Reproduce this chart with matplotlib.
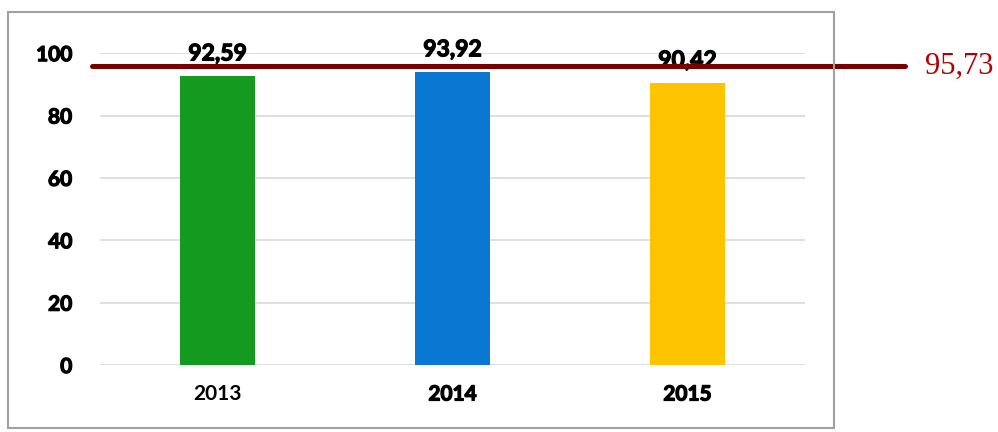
import matplotlib
matplotlib.use("Agg")
from matplotlib import pyplot as plt
from matplotlib.patches import Rectangle
import matplotlib.patheffects as pe
import matplotlib.transforms as mtrans

years = ["2013", "2014", "2015"]
values = [92.59, 93.92, 90.42]
colors = ["#149a1e", "#0a78d2", "#ffc400"]
target = 95.73
yticks = [0, 20, 40, 60, 80, 100]


def fmt(v):
    return f"{v:.2f}".replace(".", ",")


plt.rcParams["font.family"] = ["Lato", "DejaVu Sans"]
heavy = [pe.withStroke(linewidth=0.9, foreground="black")]

fig = plt.figure(figsize=(9.98, 4.32), dpi=100)
ax = fig.add_axes([0.1002, 0.155, 0.7064, 0.722])

# frame around the chart area
fig.patches.append(Rectangle((0.008, 0.01), 0.828, 0.962, transform=fig.transFigure,
                             fill=False, edgecolor="#a0a0a0", linewidth=1.5))

x = range(len(years))
bars = ax.bar(x, values, width=0.315, color=colors, zorder=2)

ax.set_xlim(-0.5, 2.5)
ax.set_ylim(0, 100)
ax.set_yticks(yticks)
ax.set_yticklabels([str(t) for t in yticks], fontsize=15, fontweight="bold")
for lbl in ax.get_yticklabels():
    lbl.set_path_effects(heavy)
ax.set_xticks(list(x))
ax.set_xticklabels(years, fontsize=15, fontweight="bold")
for lbl in ax.get_xticklabels()[1:]:
    lbl.set_path_effects(heavy)
ax.tick_params(axis="y", length=0, pad=20)
ax.tick_params(axis="x", length=0, pad=14)
ax.grid(axis="y", color="#d9d9d9", linewidth=1.2, zorder=0)
for s in ax.spines.values():
    s.set_visible(False)

for b, v in zip(bars, values):
    ax.annotate(fmt(v), (b.get_x() + b.get_width() / 2, v), xytext=(0, 8.5),
                textcoords="offset points", ha="center", va="bottom",
                fontsize=16.5, fontweight="bold", annotation_clip=False, zorder=3,
                path_effects=heavy)

# target line running past the frame, with its value on the right
trans = mtrans.blended_transform_factory(ax.transAxes, ax.transData)
ax.plot([-0.011, 1.142], [target, target], transform=trans, color="#7a0000",
        linewidth=3.6, solid_capstyle="round", clip_on=False, zorder=4)
ax.text(1.170, target, fmt(target), transform=trans, ha="left", va="center",
        fontsize=22, color="#b00000", family=["Liberation Serif", "DejaVu Serif"])

fig.savefig("out.png", dpi=100)
